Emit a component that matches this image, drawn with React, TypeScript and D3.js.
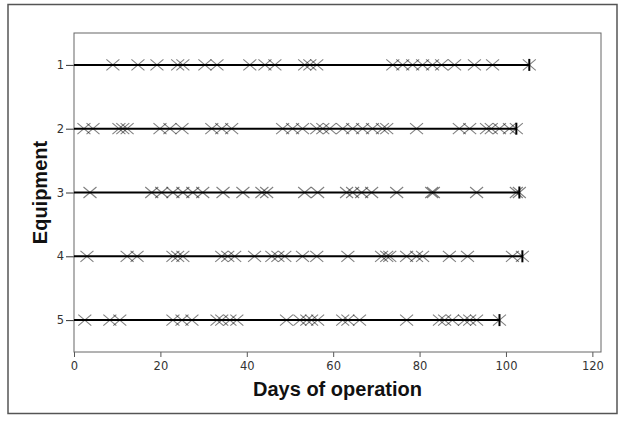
import * as d3 from "d3";
import { useEffect, useRef } from "react";

// Failure times (days) for each piece of equipment
const equipment = [1, 2, 3, 4, 5];
const failures1 = [9.0, 14.8, 19.2, 24.0, 25.2, 30.3, 33.1, 40.7, 44.2, 46.5, 53.4, 54.6, 56.2, 73.8, 76.1, 78.4, 80.7, 83.0, 85.1, 88.1, 92.7, 96.9];
const failures2 = [2.3, 4.4, 10.4, 11.3, 12.3, 19.9, 22.2, 25.0, 31.9, 34.2, 36.5, 48.3, 50.6, 52.9, 56.2, 57.6, 59.2, 62.2, 64.5, 66.8, 69.1, 71.4, 72.4, 79.3, 89.2, 91.6, 95.5, 96.6, 98.5, 100.8];
const failures3 = [3.7, 18.0, 20.3, 22.9, 25.2, 27.5, 29.8, 34.5, 39.1, 43.5, 44.6, 53.4, 56.4, 63.1, 64.5, 66.6, 68.9, 74.7, 82.8, 83.2, 93.2, 102.4];
const failures4 = [3.0, 12.3, 14.6, 22.9, 24.0, 25.2, 34.2, 35.6, 37.2, 41.8, 45.8, 47.2, 48.8, 52.9, 56.2, 63.4, 71.2, 72.4, 73.1, 77.0, 79.3, 80.7, 86.9, 91.1, 101.5];
const failures5 = [2.5, 8.3, 10.6, 22.9, 25.0, 27.3, 33.1, 34.2, 36.1, 37.7, 49.2, 52.3, 53.9, 55.0, 56.4, 62.2, 63.4, 66.1, 77.0, 84.6, 85.8, 87.6, 90.4, 91.6, 93.2];
const endTimes = [105.4, 102.4, 103.1, 103.8, 98.5];
const xTicks = [0, 20, 40, 60, 80, 100, 120];

const WIDTH = 629;
const HEIGHT = 421;
const FONT = "'DejaVu Sans', Verdana, sans-serif";
const TITLE_FONT = "'Liberation Sans', Arial, sans-serif";

const EventPlot = () => {
  const svgRef = useRef(null);

  useEffect(() => {
    const svg = d3.select(svgRef.current);
    svg.selectAll("*").remove();

    const margin = { top: 33, right: 28, bottom: 69, left: 74 };
    const innerWidth = WIDTH - margin.left - margin.right;
    const innerHeight = HEIGHT - margin.top - margin.bottom;

    // outer frame
    svg
      .append("rect")
      .attr("x", 8)
      .attr("y", 4.5)
      .attr("width", 609)
      .attr("height", 409)
      .attr("fill", "white")
      .attr("stroke", "#555")
      .attr("stroke-width", 1.5);

    const g = svg
      .append("g")
      .attr("transform", "translate(" + margin.left + "," + margin.top + ")");

    const x = d3.scaleLinear().domain([0, 122]).range([0, innerWidth]);
    const y = d3.scaleLinear().domain([0.5, 5.5]).range([0, innerHeight]);

    // x axis
    const xAxis = g
      .append("g")
      .attr("transform", "translate(0," + innerHeight + ")")
      .call(d3.axisBottom(x).tickValues(xTicks).tickSize(5).tickSizeOuter(0));
    xAxis.select(".domain").remove();
    xAxis.selectAll("line").attr("stroke", "#555");
    xAxis
      .selectAll("text")
      .attr("font-family", FONT)
      .attr("font-size", 11.5)
      .attr("fill", "#333")
      .attr("y", 8)
      .attr("dy", "0.9em");

    // y axis
    const yAxis = g
      .append("g")
      .call(d3.axisLeft(y).tickValues(equipment).tickFormat(d3.format("d")).tickSize(8));
    yAxis.select(".domain").remove();
    yAxis.selectAll("line").attr("stroke", "#333");
    yAxis
      .selectAll("text")
      .attr("font-family", FONT)
      .attr("font-size", 11.5)
      .attr("fill", "#333")
      .attr("x", -10);

    // plot box
    g.append("rect")
      .attr("width", innerWidth)
      .attr("height", innerHeight)
      .attr("fill", "none")
      .attr("stroke", "#666")
      .attr("stroke-width", 1);

    const rows = [failures1, failures2, failures3, failures4, failures5];
    const xMark = "M-6.5,-5.5L6.5,5.5M-6.5,5.5L6.5,-5.5";

    rows.forEach((times, i) => {
      const cy = y(equipment[i]);
      const end = endTimes[i];

      g.append("line")
        .attr("x1", x(0))
        .attr("x2", x(end))
        .attr("y1", cy)
        .attr("y2", cy)
        .attr("stroke", "black")
        .attr("stroke-width", 2);

      g.selectAll(null)
        .data(times.concat([end]))
        .enter()
        .append("path")
        .attr("d", xMark)
        .attr("transform", (d) => "translate(" + x(d) + "," + cy + ")")
        .attr("fill", "none")
        .attr("stroke", "#000")
        .attr("stroke-opacity", 0.5)
        .attr("stroke-width", 1.1);

      // censoring bar at end of observation
      g.append("line")
        .attr("x1", x(end))
        .attr("x2", x(end))
        .attr("y1", cy - 6)
        .attr("y2", cy + 6)
        .attr("stroke", "black")
        .attr("stroke-width", 2);
    });

    // axis titles
    svg
      .append("text")
      .attr("x", margin.left + innerWidth / 2)
      .attr("y", 396)
      .attr("text-anchor", "middle")
      .attr("font-family", TITLE_FONT)
      .attr("font-weight", "bold")
      .attr("font-size", 20)
      .attr("fill", "#111")
      .text("Days of operation");

    svg
      .append("text")
      .attr("transform", "translate(47," + (margin.top + innerHeight / 2) + ") rotate(-90)")
      .attr("text-anchor", "middle")
      .attr("font-family", TITLE_FONT)
      .attr("font-weight", "bold")
      .attr("font-size", 20)
      .attr("fill", "#111")
      .text("Equipment");
  }, []);

  return (
    <svg
      ref={svgRef}
      width={WIDTH}
      height={HEIGHT}
      style={{ position: "absolute", left: 0, top: 0, background: "white" }}
    ></svg>
  );
};

export default EventPlot;
